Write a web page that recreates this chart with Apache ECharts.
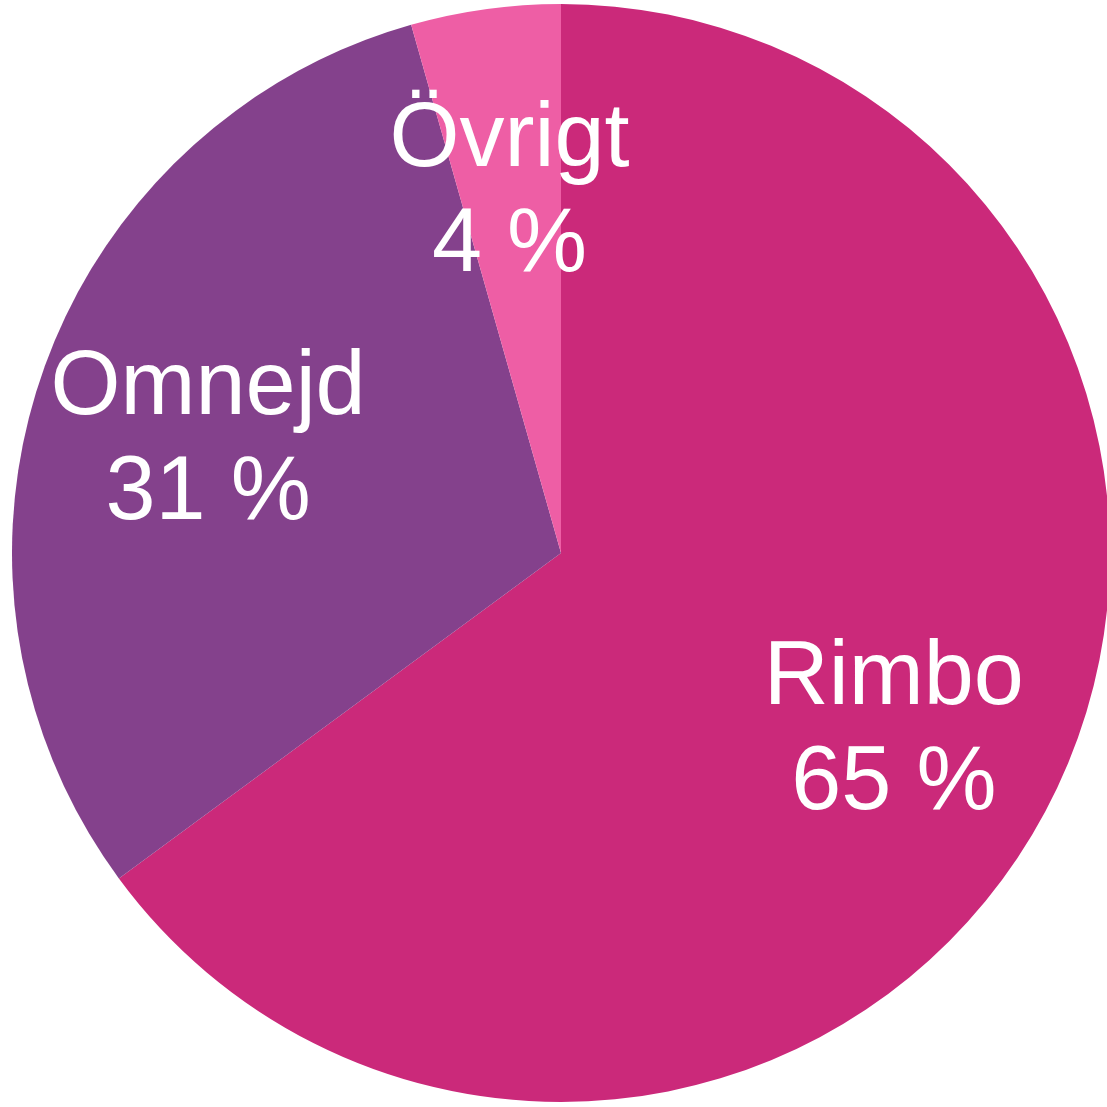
<!DOCTYPE html>
<html>
<head>
  <meta charset="utf-8">
  <title>Rimbo</title>
  <script src="https://cdn.jsdelivr.net/npm/echarts/dist/echarts.min.js"></script>
  <style>
    html, body { margin: 0; padding: 0; background: #fff; }
    #main { width: 1107px; height: 1107px; }
  </style>
</head>
<body>

<div id="main"></div>

<script>
  const categories = ['Rimbo', 'Omnejd', 'Övrigt'];
  const values = [64.9, 30.7, 4.4];
  const percentLabels = ['65 %', '31 %', '4 %'];
  const colors = ['#cb297a', '#84418c', '#ee5ea5'];

  const data = categories.map(function (name, i) {
    return { name: name, value: values[i], itemStyle: { color: colors[i] } };
  });

  const myChart = echarts.init(document.getElementById('main'));

  const option = {
    animation: false,
    series: [
      {
        type: 'pie',
        center: [561, 553],
        radius: [0, 549],
        startAngle: 90,
        clockwise: true,
        silent: true,
        itemStyle: { borderWidth: 0 },
        label: { show: false },
        labelLine: { show: false },
        data: data
      },
      {
        // transparent copy, only used to place the labels further out
        type: 'pie',
        center: [561, 553],
        radius: [0, 740],
        startAngle: 90,
        clockwise: true,
        silent: true,
        itemStyle: { color: 'rgba(0,0,0,0)', borderWidth: 0 },
        label: {
          show: true,
          position: 'inside',
          color: '#fff',
          fontFamily: 'Liberation Sans',
          fontSize: 90,
          lineHeight: 105,
          align: 'center',
          offset: [0, 10],
          formatter: function (p) {
            return p.name + '\n' + percentLabels[p.dataIndex];
          }
        },
        labelLine: { show: false },
        data: categories.map(function (name, i) {
          return { name: name, value: values[i] };
        })
      }
    ]
  };

  myChart.setOption(option);
</script>
</body>
</html>
